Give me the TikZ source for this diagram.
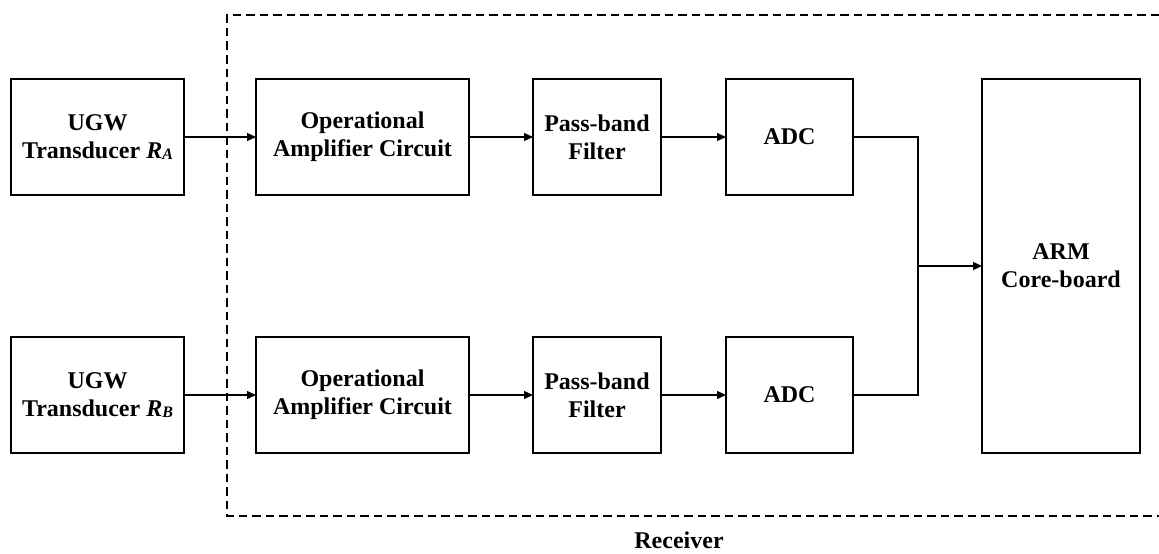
\documentclass[tikz,border=0pt]{standalone}
\usepackage{fontspec}
\setmainfont{Liberation Serif}
\usepackage{tikz}
\usetikzlibrary{positioning,arrows.meta}

\newcommand{\subidx}[1]{\raisebox{-1pt}{\fontsize{16}{16}\selectfont\textit{#1}}}

\begin{document}
\begin{tikzpicture}[line width=1.3pt,
  arr/.style={-{Triangle[length=9pt,width=8pt]}},
  block/.style={draw,rectangle,align=center,inner sep=0pt,outer sep=0pt,
    minimum height=116pt,font=\fontsize{24}{28}\selectfont\bfseries}]

\useasboundingbox (0pt,0pt) rectangle (1159pt,-554pt);

\node[block,minimum width=173pt] at (97.5pt,-137pt) (ta){UGW\\Transducer \textit{R}\subidx{A}};
\node[block,minimum width=213pt,right = 72pt of ta](oa){Operational\\Amplifier Circuit};
\node[block,minimum width=128pt,right = 64pt of oa](pa){Pass-band\\Filter};
\node[block,minimum width=127pt,right = 65pt of pa](adca){ADC};

\node[block,minimum width=173pt] at (97.5pt,-395pt) (tb){UGW\\Transducer \textit{R}\subidx{B}};
\node[block,minimum width=213pt,right = 72pt of tb](ob){Operational\\Amplifier Circuit};
\node[block,minimum width=128pt,right = 64pt of ob](pb){Pass-band\\Filter};
\node[block,minimum width=127pt,right = 65pt of pb](adcb){ADC};

\node[block,minimum width=158pt,minimum height=374pt] at (1061pt,-266pt) (arm){ARM\\Core-board};

\coordinate (join) at (918pt,-266pt);

\path (ta) edge[arr] (oa);
\path (oa) edge[arr] (pa);
\path (pa) edge[arr] (adca);
\path (tb) edge[arr] (ob);
\path (ob) edge[arr] (pb);
\path (pb) edge[arr] (adcb);

\draw (adca.east) -| (join) |- (adcb.east);
\draw[arr] (join) -- (arm.west);

% receiver part
\draw[dash pattern=on 8.5pt off 5pt] (1159pt,-15pt) -- (227pt,-15pt) -- (227pt,-516pt) -- (1159pt,-516pt);
\node[font=\fontsize{24}{28}\selectfont\bfseries] at (679pt,-540pt) (receiver){Receiver};

\end{tikzpicture}
\end{document}
